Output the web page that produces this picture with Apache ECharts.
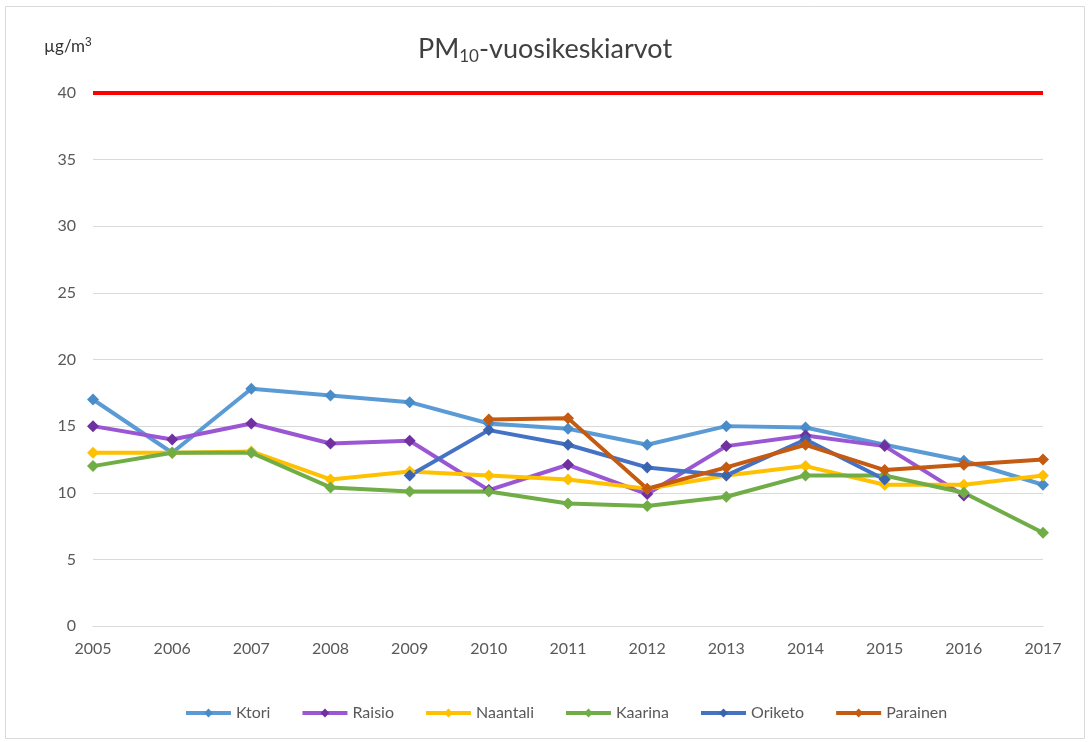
<!DOCTYPE html>
<html>
<head>
<meta charset="utf-8">
<script src="https://cdn.jsdelivr.net/npm/echarts@6/dist/echarts.min.js"></script>
<style>
  html, body { margin: 0; padding: 0; background: #fff; }
  #chart { width: 1090px; height: 742px; }
</style>
</head>
<body>
<div id="chart"></div>
<script>
  // vuodet
  var years = ['2005', '2006', '2007', '2008', '2009', '2010', '2011', '2012', '2013', '2014', '2015', '2016', '2017'];
  var ktori = [17.0, 13.0, 17.8, 17.3, 16.8, 15.2, 14.8, 13.6, 15.0, 14.9, 13.6, 12.4, 10.6];
  var raisio = [15.0, 14.0, 15.2, 13.7, 13.9, 10.2, 12.1, 9.9, 13.5, 14.3, 13.5, 9.8, null];
  var naantali = [13.0, 13.0, 13.1, 11.0, 11.6, 11.3, 11.0, 10.3, 11.3, 12.0, 10.6, 10.6, 11.3];
  var kaarina = [12.0, 13.0, 13.0, 10.4, 10.1, 10.1, 9.2, 9.0, 9.7, 11.3, 11.3, 10.0, 7.0];
  var oriketo = [null, null, null, null, 11.3, 14.7, 13.6, 11.9, 11.3, 14.0, 11.0, null, null];
  var parainen = [null, null, null, null, null, 15.5, 15.6, 10.3, 11.9, 13.6, 11.7, 12.1, 12.5];
  var limitValue = 40;

  var chart = echarts.init(document.getElementById('chart'));

  function line(name, data, color, markerColor) {
    return {
      name: name,
      type: 'line',
      data: data,
      symbol: 'diamond',
      symbolSize: 12,
      connectNulls: false,
      lineStyle: { color: color, width: 4 },
      itemStyle: { color: markerColor || color },
      emphasis: { disabled: true }
    };
  }

  var series = [
    line('Ktori', ktori, '#5B9BD5', '#4A8CC7'),
    line('Raisio', raisio, '#9B57D3', '#7030A0'),
    line('Naantali', naantali, '#FFC000'),
    line('Kaarina', kaarina, '#70AD47'),
    line('Oriketo', oriketo, '#4472C4', '#3A63B0'),
    line('Parainen', parainen, '#C55A11')
  ];
  // raja-arvo
  series[0].markLine = {
    silent: true,
    symbol: 'none',
    label: { show: false },
    lineStyle: { color: '#FF0000', width: 4, type: 'solid' },
    data: [{ yAxis: limitValue }]
  };

  chart.setOption({
    animation: false,
    textStyle: { fontFamily: 'Lato, "Open Sans", sans-serif' },
    title: {
      text: 'PM{sub|10}-vuosikeskiarvot',
      left: 'center',
      top: 29,
      textStyle: {
        fontSize: 27,
        fontWeight: 'normal',
        color: '#404040',
        rich: {
          sub: { fontSize: 17, color: '#404040', padding: [14, 0, 0, 0] }
        }
      }
    },
    graphic: [
      {
        type: 'rect',
        shape: { x: 5.5, y: 6.5, width: 1079, height: 732 },
        style: { fill: 'none', stroke: '#d9d9d9', lineWidth: 1 },
        silent: true
      },
      {
        type: 'text',
        left: 44,
        top: 37,
        style: {
          text: 'µg/m{sup|3}',
          fontSize: 17,
          fill: '#333',
          fontFamily: 'Lato, sans-serif',
          rich: { sup: { fontSize: 12, padding: [0, 0, 8, 0], fill: '#333' } }
        }
      }
    ],
    legend: {
      bottom: 16,
      left: 179,
      itemWidth: 45,
      itemHeight: 11,
      itemGap: 30,
      lineStyle: { width: 4 },
      textStyle: { fontSize: 16, color: '#595959' },
      data: ['Ktori', 'Raisio', 'Naantali', 'Kaarina', 'Oriketo', 'Parainen']
    },
    grid: { left: 93, right: 47, top: 93, bottom: 116, containLabel: false },
    xAxis: {
      type: 'category',
      data: years,
      boundaryGap: false,
      axisLine: { lineStyle: { color: '#d9d9d9' } },
      axisTick: { show: false },
      axisLabel: { color: '#595959', fontSize: 16, margin: 15 }
    },
    yAxis: {
      type: 'value',
      min: 0,
      max: 40,
      interval: 5,
      axisLine: { show: false },
      axisTick: { show: false },
      splitLine: { lineStyle: { color: '#d9d9d9' } },
      axisLabel: { color: '#595959', fontSize: 16, margin: 17 }
    },
    series: series
  });
</script>
</body>
</html>
